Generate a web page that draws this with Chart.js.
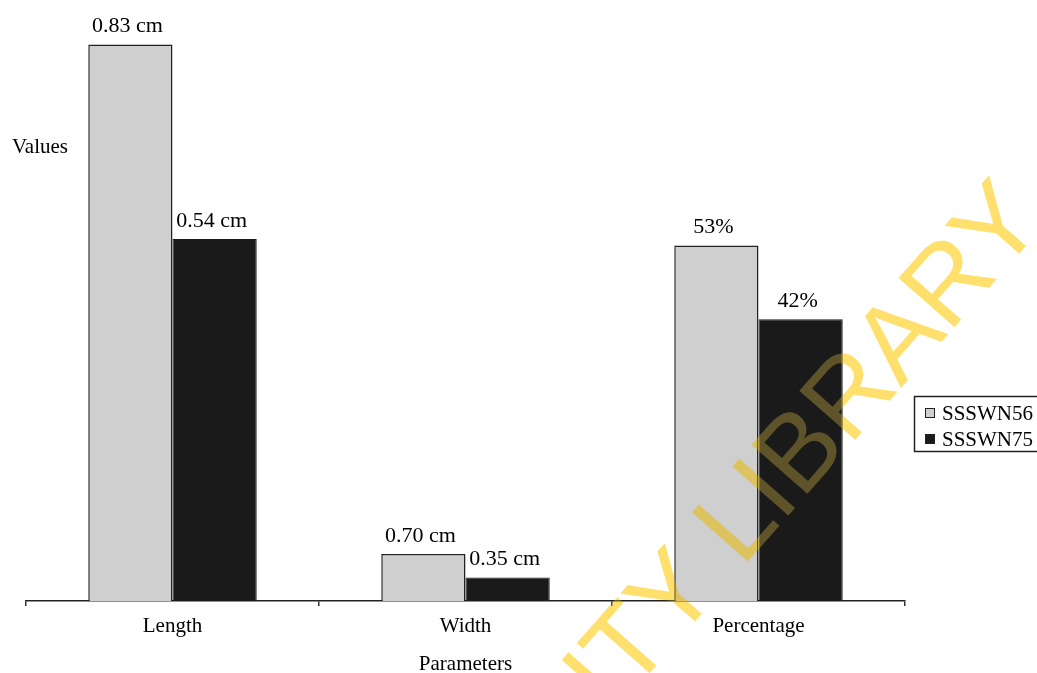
<!DOCTYPE html>
<html>
<head>
<meta charset="utf-8">
<script src="https://cdn.jsdelivr.net/npm/chart.js@4.4.1/dist/chart.umd.min.js"></script>
<style>
	html, body { margin: 0; padding: 0; background: #fff; overflow: hidden; }
</style>
</head>
<body>
<canvas id="bar-chart" width="1037" height="673"></canvas>
<script>
var categories = ['Length', 'Width', 'Percentage'];
var seriesNames = ['SSSWN56', 'SSSWN75'];
// bar heights as drawn (length in cm x100, width in cm x10, percentage)
var ssswn56Values = [83, 7, 53];
var ssswn75Values = [54, 3.5, 42];
var ssswn56Labels = ['0.83 cm', '0.70 cm', '53%'];
var ssswn75Labels = ['0.54 cm', '0.35 cm', '42%'];
var yMax = 85;

var serif = '"Liberation Serif", "Times New Roman", serif';
var valueLabels = [ssswn56Labels, ssswn75Labels];

var barLabels = {
	id: 'barLabels',
	afterDatasetsDraw: function(chart) {
		var ctx = chart.ctx;
		ctx.save();
		ctx.font = '22px ' + serif;
		ctx.fillStyle = '#000';
		ctx.textAlign = 'center';
		ctx.textBaseline = 'middle';
		chart.data.datasets.forEach(function(ds, i) {
			chart.getDatasetMeta(i).data.forEach(function(bar, j) {
				ctx.fillText(valueLabels[i][j], bar.x - 3, bar.y - 18);
			});
		});
		ctx.restore();
	}
};

var extras = {
	id: 'extras',
	afterDraw: function(chart) {
		var ctx = chart.ctx;
		ctx.save();
		// y title
		ctx.font = '21px ' + serif;
		ctx.fillStyle = '#000';
		ctx.textAlign = 'left';
		ctx.textBaseline = 'middle';
		ctx.fillText('Values', 12, 147);

		// legend box
		ctx.strokeStyle = '#222';
		ctx.lineWidth = 1.5;
		ctx.strokeRect(914.5, 396.5, 140, 55);
		ctx.font = '21px ' + serif;
		chart.data.datasets.forEach(function(ds, i) {
			var y = 413 + i * 26;
			ctx.fillStyle = ds.backgroundColor;
			ctx.fillRect(925, y - 5, 10, 10);
			ctx.lineWidth = 1;
			ctx.strokeRect(925.5, y - 4.5, 9, 9);
			ctx.fillStyle = '#000';
			ctx.fillText(ds.label, 942, y + 1);
		});

		// library watermark
		ctx.font = '108px "Liberation Sans", Arial, sans-serif';
		ctx.textAlign = 'left';
		ctx.textBaseline = 'alphabetic';
		var off = ctx.measureText('UNIVERSITY ').width;
		ctx.translate(742, 568);
		ctx.rotate(-48.6 * Math.PI / 180);
		ctx.globalCompositeOperation = 'multiply';
		ctx.fillStyle = 'rgb(255, 224, 110)';
		ctx.fillText('UNIVERSITY LIBRARY', -off, 0);
		ctx.globalCompositeOperation = 'source-over';
		ctx.globalAlpha = 0.3;
		ctx.fillText('UNIVERSITY LIBRARY', -off, 0);
		ctx.restore();
	}
};

var ctx = document.getElementById('bar-chart').getContext('2d');
var barChart = new Chart(ctx, {
	type: 'bar',
	data: {
		labels: categories,
		datasets: [{
			label: seriesNames[0],
			data: ssswn56Values,
			backgroundColor: '#cfcfcf',
			borderColor: '#222',
			borderWidth: 1.5,
			categoryPercentage: 0.575,
			barPercentage: 1
		}, {
			label: seriesNames[1],
			data: ssswn75Values,
			backgroundColor: '#1a1a1a',
			borderColor: '#1a1a1a',
			borderWidth: 1,
			categoryPercentage: 0.575,
			barPercentage: 1
		}]
	},
	options: {
		responsive: false,
		animation: false,
		devicePixelRatio: 1,
		layout: { padding: { left: 26, right: 132, top: 31, bottom: 0 } },
		plugins: {
			legend: { display: false },
			tooltip: { enabled: false }
		},
		scales: {
			x: {
				grid: { display: true, drawOnChartArea: false, drawTicks: true, tickLength: 5, offset: true, color: '#333', lineWidth: 1.5 },
				border: { display: true, color: '#222', width: 1.5 },
				ticks: { color: '#000', padding: 10, font: { family: serif, size: 21, lineHeight: 1 } },
				title: { display: true, text: 'Parameters', color: '#000', padding: { top: 7, bottom: -2 }, font: { family: serif, size: 21, lineHeight: 1 } }
			},
			y: { display: false, min: 0, max: yMax }
		}
	},
	plugins: [barLabels, extras]
});
</script>
</body>
</html>
